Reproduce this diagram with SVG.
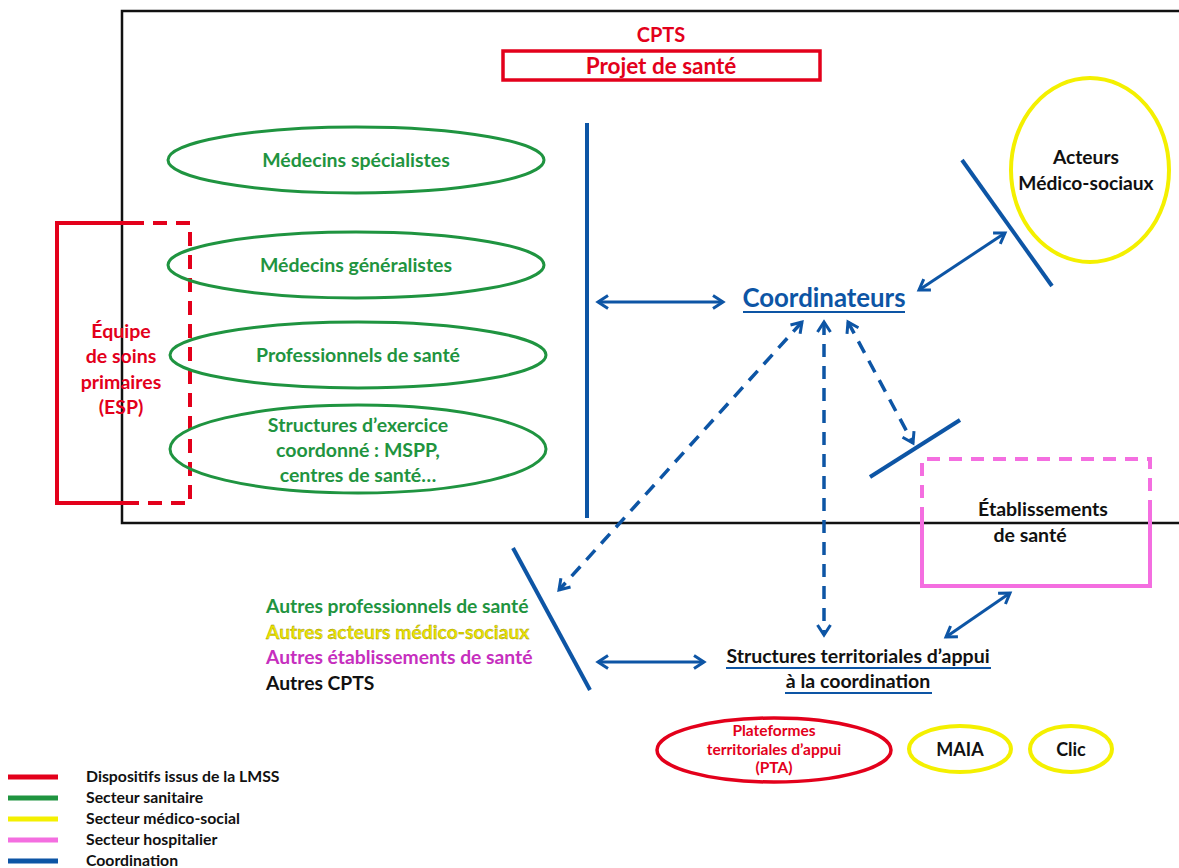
<svg xmlns="http://www.w3.org/2000/svg" width="1179" height="868" viewBox="0 0 1179 868">
<defs>
<style>
text{font-family:Lato,"Open Sans","Liberation Sans",sans-serif;font-weight:bold;text-anchor:middle}
.g{fill:#1f9440}
.r{fill:#e3001b}
.k{fill:#111}
.b{fill:#0d55a5}
.ge{fill:none;stroke:#1f9440;stroke-width:3}
.ye{fill:none;stroke:#f4f000;stroke-width:4}
.bl{stroke:#0d55a5;stroke-width:4;fill:none}
.ar{stroke:#0d55a5;stroke-width:3;fill:none;marker-start:url(#ah);marker-end:url(#ah)}
.da{stroke:#0d55a5;stroke-width:3.5;fill:none;stroke-dasharray:13 9;marker-start:url(#ah);marker-end:url(#ah)}
.lg{stroke-width:5}
.lt{font-size:15.8px;text-anchor:start;fill:#111}
</style>
<marker id="ah" viewBox="0 0 16 16" refX="13" refY="8" markerWidth="16" markerHeight="16" markerUnits="userSpaceOnUse" orient="auto-start-reverse">
<path d="M3,1.5 L13,8 L3,14.5" fill="none" stroke="#0d55a5" stroke-width="3"/>
</marker>
</defs>
<rect width="1179" height="868" fill="#fff"/>

<g id="frame">
<path d="M1179,11 H122 V523 H1179" fill="none" stroke="#111" stroke-width="2.5"/>
</g>

<g id="cpts">
<text x="661" y="42" class="r" font-size="20">CPTS</text>
<rect x="503" y="51" width="317" height="29" fill="none" stroke="#e3001b" stroke-width="3.5"/>
<text x="661" y="74" class="r" font-size="22.5">Projet de santé</text>
</g>

<g id="esp">
<path d="M130,223 H57 V503 H132" fill="none" stroke="#e3001b" stroke-width="4"/>
<path d="M130,223 H190 V503 H132" fill="none" stroke="#e3001b" stroke-width="4" stroke-dasharray="14 9"/>
<text x="121" y="338" class="r" font-size="19.5">Équipe</text>
<text x="121" y="363" class="r" font-size="19.5">de soins</text>
<text x="121" y="389" class="r" font-size="19.5">primaires</text>
<text x="121" y="414" class="r" font-size="19.5">(ESP)</text>
</g>

<g id="specialistes">
<ellipse cx="356" cy="160" rx="188" ry="33" class="ge"/>
<text x="356" y="167" class="g" font-size="19.5">Médecins spécialistes</text>
</g>
<g id="generalistes">
<ellipse cx="356" cy="265" rx="188" ry="33" class="ge"/>
<text x="356" y="272" class="g" font-size="19.5">Médecins généralistes</text>
</g>
<g id="professionnels">
<ellipse cx="358" cy="355" rx="188" ry="33" class="ge"/>
<text x="358" y="362" class="g" font-size="19.5">Professionnels de santé</text>
</g>
<g id="structures-exercice">
<ellipse cx="358" cy="449" rx="188" ry="44" class="ge"/>
<text x="358" y="432" class="g" font-size="19.5">Structures d’exercice</text>
<text x="358" y="457" class="g" font-size="19.5">coordonné : MSPP,</text>
<text x="358" y="482" class="g" font-size="19.5">centres de santé…</text>
</g>

<g id="coordinateurs">
<text x="824" y="307" class="b" font-size="25.8">Coordinateurs</text>
<line x1="743" y1="312" x2="905" y2="312" stroke="#0d55a5" stroke-width="2"/>
</g>

<g id="acteurs-medico-sociaux">
<ellipse cx="1090" cy="170" rx="79" ry="92" class="ye"/>
<text x="1086" y="164" class="k" font-size="19.2">Acteurs</text>
<text x="1086" y="190" class="k" font-size="19.2">Médico-sociaux</text>
</g>

<g id="etablissements">
<path d="M922,520 V459 H1150 V505" fill="none" stroke="#f46ee0" stroke-width="4" stroke-dasharray="13 9"/>
<path d="M922,520 V586 H1150 V505" fill="none" stroke="#f46ee0" stroke-width="4"/>
<text x="1043" y="516" class="k" font-size="19.5">Établissements</text>
<text x="1030" y="542" class="k" font-size="19.5">de santé</text>
</g>

<g id="autres">
<text x="266" y="613" class="g" font-size="19.3" style="text-anchor:start">Autres professionnels de santé</text>
<text x="266" y="639" font-size="19.3" style="text-anchor:start;fill:#ece400;stroke:#8a8200;stroke-width:0.3">Autres acteurs médico-sociaux</text>
<text x="266" y="664" font-size="19.3" style="text-anchor:start;fill:#c62fbe">Autres établissements de santé</text>
<text x="266" y="690" class="k" font-size="19.3" style="text-anchor:start">Autres CPTS</text>
</g>

<g id="structures-territoriales">
<text x="858" y="663" class="k" font-size="19.5">Structures territoriales d’appui</text>
<line x1="726" y1="668" x2="991" y2="668" stroke="#0d55a5" stroke-width="1.8"/>
<text x="858" y="688" class="k" font-size="19.5">à la coordination</text>
<line x1="785" y1="693" x2="932" y2="693" stroke="#0d55a5" stroke-width="1.8"/>
</g>

<g id="pta">
<ellipse cx="774" cy="750" rx="117" ry="32" fill="none" stroke="#e3001b" stroke-width="3.5"/>
<text x="774" y="736" class="r" font-size="15.5">Plateformes</text>
<text x="774" y="755" class="r" font-size="15.5">territoriales d’appui</text>
<text x="774" y="773" class="r" font-size="15.5">(PTA)</text>
</g>
<g id="maia">
<ellipse cx="960" cy="749" rx="51" ry="23" class="ye"/>
<text x="960" y="756" class="k" font-size="18">MAIA</text>
</g>
<g id="clic">
<ellipse cx="1071" cy="749" rx="41" ry="23" class="ye"/>
<text x="1071" y="756" class="k" font-size="18">Clic</text>
</g>

<g id="connectors">
<line x1="587" y1="123" x2="587" y2="518" class="bl"/>
<line x1="962" y1="160" x2="1052" y2="286" class="bl"/>
<line x1="870" y1="477" x2="960" y2="420" class="bl"/>
<line x1="513" y1="548" x2="590" y2="690" class="bl"/>
<line x1="598" y1="302" x2="723" y2="302" class="ar"/>
<line x1="919" y1="290" x2="1005" y2="233" class="ar"/>
<line x1="598" y1="662" x2="704" y2="662" class="ar"/>
<line x1="946" y1="637" x2="1010" y2="593" class="ar"/>
<line x1="802" y1="322" x2="559" y2="590" class="da"/>
<line x1="824" y1="322" x2="824" y2="635" class="da"/>
<line x1="848" y1="322" x2="913" y2="443" class="da"/>
</g>

<g id="legend">
<line x1="8" y1="777" x2="58" y2="777" stroke="#e3001b" class="lg"/>
<line x1="8" y1="798" x2="58" y2="798" stroke="#1f9440" class="lg"/>
<line x1="8" y1="819" x2="58" y2="819" stroke="#f4f000" class="lg"/>
<line x1="8" y1="840" x2="58" y2="840" stroke="#f46ee0" class="lg"/>
<line x1="8" y1="861" x2="58" y2="861" stroke="#0d55a5" class="lg"/>
<text x="86" y="782" class="lt">Dispositifs issus de la LMSS</text>
<text x="86" y="803" class="lt">Secteur sanitaire</text>
<text x="86" y="824" class="lt">Secteur médico-social</text>
<text x="86" y="845" class="lt">Secteur hospitalier</text>
<text x="86" y="866" class="lt">Coordination</text>
</g>
</svg>
